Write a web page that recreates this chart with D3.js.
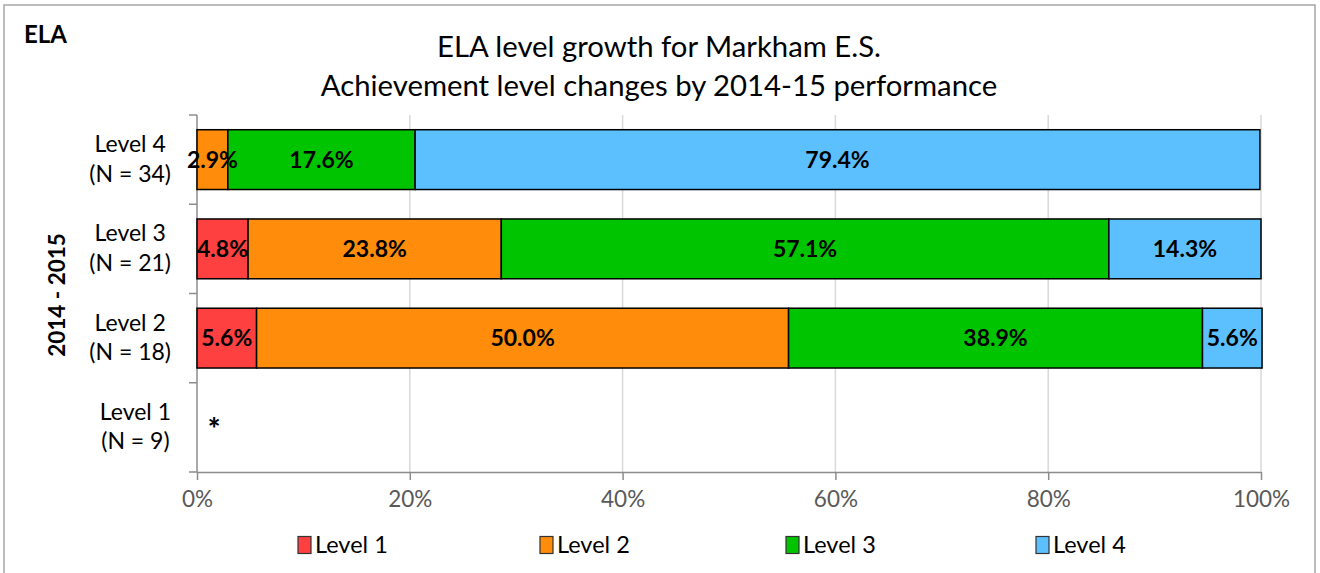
<!DOCTYPE html>
<html><head><meta charset="utf-8">
<script src="https://cdn.jsdelivr.net/npm/d3@7/dist/d3.min.js"></script>
<style>body{margin:0;background:#fff;} svg{display:block;}</style>
</head><body>
<svg id="c" width="1320" height="573"></svg>
<script>
const categories = ["Level 4", "Level 3", "Level 2", "Level 1"];
const categoryN = ["(N = 34)", "(N = 21)", "(N = 18)", "(N = 9)"];
const seriesNames = ["Level 1", "Level 2", "Level 3", "Level 4"];
const level1Values = [0, 4.8, 5.6, null];
const level2Values = [2.9, 23.8, 50.0, null];
const level3Values = [17.6, 57.1, 38.9, null];
const level4Values = [79.4, 14.3, 5.6, null];
const seriesColors = ["#FF4040", "#FF8C0A", "#00C400", "#5CC0FF"];
const xTicks = [0, 20, 40, 60, 80, 100];
const suppressedNote = "*";

const FONT = "Lato, 'Open Sans', sans-serif";
const svg = d3.select("#c");
const series = [level1Values, level2Values, level3Values, level4Values];

// outer frame
svg.append("rect").attr("x", 4).attr("y", 5).attr("width", 1311).attr("height", 575)
  .attr("fill", "#fff").attr("stroke", "#A6A6A6").attr("stroke-width", 1.5);

svg.append("text").attr("x", 24).attr("y", 43).text("ELA")
  .attr("font-family", FONT).attr("font-weight", "bold").attr("font-size", 24).attr("fill", "#000");

svg.append("text").attr("x", 659).attr("y", 57).attr("text-anchor", "middle")
  .attr("font-family", FONT).attr("font-size", 29.3).attr("fill", "#000")
  .text("ELA level growth for Markham E.S.");
svg.append("text").attr("x", 659).attr("y", 96).attr("text-anchor", "middle")
  .attr("font-family", FONT).attr("font-size", 29.3).attr("fill", "#000")
  .text("Achievement level changes by 2014-15 performance");

const x = d3.scaleLinear().domain([0, 100]).range([197, 1261]);
const y = d3.scaleBand().domain(categories).range([115, 472]).paddingInner(0.33).paddingOuter(0.165);
const yOuter = d3.scaleBand().domain(categories).range([115, 472]);

// gridlines
svg.append("g").selectAll("line").data(xTicks.slice(1)).join("line")
  .attr("x1", d => x(d)).attr("x2", d => x(d)).attr("y1", 115).attr("y2", 472)
  .attr("stroke", "#D9D9D9").attr("stroke-width", 1.5);

// x axis
const xAxis = svg.append("g").attr("transform", "translate(0,472)")
  .call(d3.axisBottom(x).tickValues(xTicks).tickFormat(d => d + "%").tickSize(8).tickSizeOuter(0));
xAxis.select(".domain").attr("stroke", "#8C8C8C").attr("stroke-width", 1.5);
xAxis.selectAll(".tick line").attr("stroke", "#8C8C8C").attr("stroke-width", 1.5);
xAxis.selectAll(".tick text").attr("font-family", FONT).attr("font-size", 22.5).attr("fill", "#595959")
  .attr("y", 27).attr("dy", "0.36em");

// y axis line + ticks at band boundaries
svg.append("line").attr("x1", 197).attr("x2", 197).attr("y1", 115).attr("y2", 472)
  .attr("stroke", "#8C8C8C").attr("stroke-width", 1.5);
const bounds = categories.map(c => yOuter(c)).concat([472]);
svg.append("g").selectAll("line").data(bounds).join("line")
  .attr("x1", 189).attr("x2", 197).attr("y1", d => d).attr("y2", d => d)
  .attr("stroke", "#8C8C8C").attr("stroke-width", 1.5);

// bars
const rows = categories.map((c, i) => {
  let acc = 0;
  const segs = [];
  series.forEach((s, k) => {
    const v = s[i];
    if (v === null) return;
    segs.push({cat: c, k, v, x0: acc, x1: acc + v});
    acc += v;
  });
  return segs;
}).flat();

const g = svg.append("g");
g.selectAll("rect").data(rows.filter(d => d.v > 0)).join("rect")
  .attr("x", d => x(d.x0)).attr("width", d => x(d.x1) - x(d.x0))
  .attr("y", d => y(d.cat)).attr("height", y.bandwidth())
  .attr("fill", d => seriesColors[d.k]).attr("stroke", "#000").attr("stroke-width", 1.5);
g.selectAll("text").data(rows.filter(d => d.v > 0)).join("text")
  .attr("x", d => (x(d.x0) + x(d.x1)) / 2).attr("y", d => y(d.cat) + y.bandwidth() / 2)
  .attr("dy", "0.36em").attr("text-anchor", "middle")
  .attr("font-family", FONT).attr("font-weight", "bold").attr("font-size", 23).attr("fill", "#000")
  .text(d => d.v.toFixed(1) + "%");

// suppressed note
svg.append("text").attr("x", x(1.6)).attr("y", yOuter("Level 1") + yOuter.bandwidth() / 2 + 13)
  .attr("text-anchor", "middle").attr("font-family", FONT).attr("font-weight", "900")
  .attr("font-size", 30).text(suppressedNote);

// category labels
categories.forEach((c, i) => {
  const cy = yOuter(c) + yOuter.bandwidth() / 2;
  const t = svg.append("text").attr("font-family", FONT).attr("font-size", 23).attr("fill", "#000");
  const a = t.append("tspan").attr("y", cy - 7.5).text(c);
  const b = t.append("tspan").attr("y", cy + 22).text(categoryN[i]);
  const wa = a.node().getComputedTextLength(), wb = b.node().getComputedTextLength();
  const w = Math.max(wa, wb);
  const center = 171 - w / 2;
  a.attr("x", center).attr("text-anchor", "middle");
  b.attr("x", center).attr("text-anchor", "middle");
});

// y axis title
svg.append("text").attr("transform", "translate(65,295) rotate(-90)")
  .attr("text-anchor", "middle").attr("font-family", FONT).attr("font-weight", "bold")
  .attr("font-size", 22.5).text("2014 - 2015");

// legend
const legendX = [305, 547, 793, 1043];
const lg = svg.append("g").selectAll("g").data(seriesNames).join("g")
  .attr("transform", (d, i) => `translate(${legendX[i]},545)`);
lg.append("rect").attr("x", -7).attr("y", -8.5).attr("width", 13).attr("height", 17)
  .attr("fill", (d, i) => seriesColors[i]).attr("stroke", "#333").attr("stroke-width", 1.2);
lg.append("text").attr("x", 10).attr("y", 0).attr("dy", "0.36em")
  .attr("font-family", FONT).attr("font-size", 23.5).text(d => d);
</script>
</body></html>
